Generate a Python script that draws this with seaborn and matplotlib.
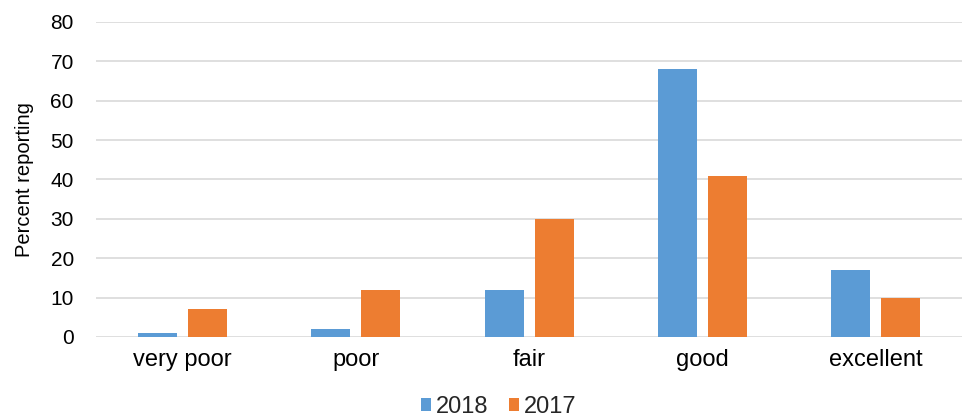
import matplotlib
matplotlib.use("Agg")
import matplotlib.pyplot as plt
import seaborn as sns
import pandas as pd

categories = ["very poor", "poor", "fair", "good", "excellent"]
series_names = ["2018", "2017"]
values_2018 = [1, 2, 12, 68, 17]
values_2017 = [7, 12, 30, 41, 10]
y_ticks = [0, 10, 20, 30, 40, 50, 60, 70, 80]

df = pd.DataFrame({
    "category": categories * 2,
    "year": [series_names[0]] * 5 + [series_names[1]] * 5,
    "value": values_2018 + values_2017,
})

sns.set_theme(style="white")
plt.rcParams['font.family'] = ['Liberation Sans', 'DejaVu Sans']

fig = plt.figure(figsize=(9.7, 4.19), dpi=100)
ax = fig.add_axes([0.099, 0.196, 0.893, 0.7515])

sns.barplot(data=df, x="category", y="value", hue="year", order=categories,
            hue_order=series_names, palette=["#5B9BD5", "#ED7D31"],
            width=0.578, gap=0.22, ax=ax, legend=True, saturation=1,
            linewidth=0)

ax.set_ylim(0, 80)
ax.set_yticks(y_ticks)
ax.set_xlim(-0.5, 4.5)
ax.yaxis.grid(True, color="#D9D9D9", linewidth=1.2)
ax.set_axisbelow(True)
for s in ax.spines.values():
    s.set_visible(False)
ax.tick_params(axis="both", length=0)
ax.tick_params(axis="y", labelsize=15, colors="#000000", pad=16)
ax.tick_params(axis="x", labelsize=17, colors="#000000", pad=9)
ax.set_xlabel("")
ax.set_ylabel("Percent reporting", fontsize=14.5, color="#000000", labelpad=12)

leg = ax.legend(loc="center", bbox_to_anchor=(0.465, -0.222), ncol=2,
                frameon=False, fontsize=17, handlelength=0.45, handleheight=0.45,
                handletextpad=0.2, columnspacing=0.85)

fig.savefig("out.png", dpi=100)
